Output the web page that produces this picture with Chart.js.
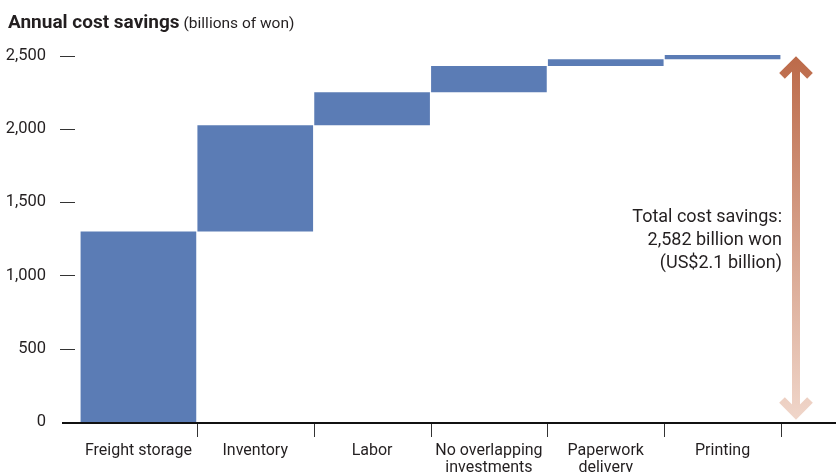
<!DOCTYPE html>
<html>
<head>
<meta charset="utf-8">
<title>Annual cost savings</title>
<script src="https://cdn.jsdelivr.net/npm/chart.js@4.4.1/dist/chart.umd.min.js"></script>
<style>
  html, body { margin: 0; padding: 0; background: #fff; }
  #wrap { width: 836px; height: 472px; position: relative; }
</style>
</head>
<body>
<div id="wrap"><canvas id="chart"></canvas></div>
<script>
// savings per source, stacked one after another (billions of won)
var categories = ['Freight storage', 'Inventory', 'Labor', ['No overlapping', 'investments'], ['Paperwork', 'delivery'], 'Printing'];
var savings = [1300, 725, 225, 180, 45, 30];
var yTicks = [0, 500, 1000, 1500, 2000, 2500];
var totalNote = ['Total cost savings:', '2,582 billion won', '(US$2.1 billion)'];

var barColor = '#5b7cb5';
var inkColor = '#231f20';

// floating bars: each step starts where the previous one ended
var steps = [];
var running = 0;
for (var i = 0; i < savings.length; i++) {
	steps.push([running, running + savings[i]]);
	running += savings[i];
}

Chart.defaults.font.family = 'Roboto, sans-serif';
Chart.defaults.color = inkColor;

var decor = {
	id: 'decor',
	afterDraw: function(chart) {
		var ctx = chart.ctx;
		var x = chart.scales.x;
		var y = chart.scales.y;
		var area = chart.chartArea;
		var y0 = y.getPixelForValue(0);

		ctx.save();

		// title
		ctx.fillStyle = inkColor;
		ctx.textBaseline = 'alphabetic';
		ctx.textAlign = 'left';
		ctx.font = 'bold 19px Roboto, sans-serif';
		ctx.fillText('Annual cost savings', 8, 28);
		var w = ctx.measureText('Annual cost savings').width;
		ctx.font = '15.5px Roboto, sans-serif';
		ctx.fillText('(billions of won)', 8 + w + 4, 28);

		// short dashes next to the value labels
		ctx.strokeStyle = '#333';
		ctx.lineWidth = 1;
		yTicks.forEach(function(v) {
			if (v === 0) return;
			var py = Math.round(y.getPixelForValue(v)) + 0.5;
			ctx.beginPath();
			ctx.moveTo(60, py);
			ctx.lineTo(75, py);
			ctx.stroke();
		});

		// tick marks between categories
		var half = (x.getPixelForValue(1) - x.getPixelForValue(0)) / 2;
		for (var i = 0; i < categories.length; i++) {
			var px = Math.round(x.getPixelForValue(i) + half) + 0.5;
			ctx.beginPath();
			ctx.moveTo(px, y0 + 1);
			ctx.lineTo(px, y0 + 15);
			ctx.stroke();
		}

		// baseline
		ctx.strokeStyle = '#111';
		ctx.lineWidth = 2;
		ctx.beginPath();
		ctx.moveTo(62, y0 + 1);
		ctx.lineTo(chart.width, y0 + 1);
		ctx.stroke();

		// double arrow spanning the total
		var ax = area.right + 15;
		var top = y.getPixelForValue(running) + 1;
		var bottom = y0 - 2;
		var grad = ctx.createLinearGradient(0, top, 0, bottom);
		grad.addColorStop(0, '#bc6a49');
		grad.addColorStop(1, '#f0d6ca');
		ctx.strokeStyle = grad;
		ctx.lineWidth = 8;
		ctx.lineCap = 'butt';
		ctx.lineJoin = 'miter';
		ctx.beginPath();
		ctx.moveTo(ax, top + 6);
		ctx.lineTo(ax, bottom - 6);
		ctx.stroke();
		ctx.beginPath();
		ctx.moveTo(ax - 14, top + 20);
		ctx.lineTo(ax, top + 6);
		ctx.lineTo(ax + 14, top + 20);
		ctx.stroke();
		ctx.beginPath();
		ctx.moveTo(ax - 14, bottom - 20);
		ctx.lineTo(ax, bottom - 6);
		ctx.lineTo(ax + 14, bottom - 20);
		ctx.stroke();

		// total note
		ctx.fillStyle = inkColor;
		ctx.font = '18px Roboto, sans-serif';
		ctx.textAlign = 'right';
		totalNote.forEach(function(line, k) {
			ctx.fillText(line, area.right + 1, 222 + k * 23);
		});

		ctx.restore();
	}
};

new Chart(document.getElementById('chart'), {
	type: 'bar',
	data: {
		labels: categories,
		datasets: [{
			data: steps,
			backgroundColor: barColor,
			borderWidth: 0,
			barPercentage: 0.99,
			categoryPercentage: 1
		}]
	},
	options: {
		responsive: true,
		maintainAspectRatio: false,
		animation: false,
		layout: { padding: { top: 41, right: 55, left: 0, bottom: 0 } },
		plugins: {
			legend: { display: false },
			tooltip: { enabled: false }
		},
		scales: {
			x: {
				grid: { display: false },
				border: { display: false },
				ticks: {
					autoSkip: false,
					maxRotation: 0,
					padding: 13,
					font: { size: 16, lineHeight: 1.05 }
				},
				afterFit: function(scale) { scale.height = 50; }
			},
			y: {
				min: 0,
				max: 2600,
				grid: { display: false },
				border: { display: false },
				ticks: {
					padding: 26,
					font: { size: 16.5 },
					callback: function(v) { return v.toLocaleString('en-US'); }
				},
				afterBuildTicks: function(scale) {
					scale.ticks = yTicks.map(function(v) { return { value: v }; });
				},
				afterFit: function(scale) { scale.width = 80; }
			}
		}
	},
	plugins: [decor]
});
</script>
</body>
</html>
